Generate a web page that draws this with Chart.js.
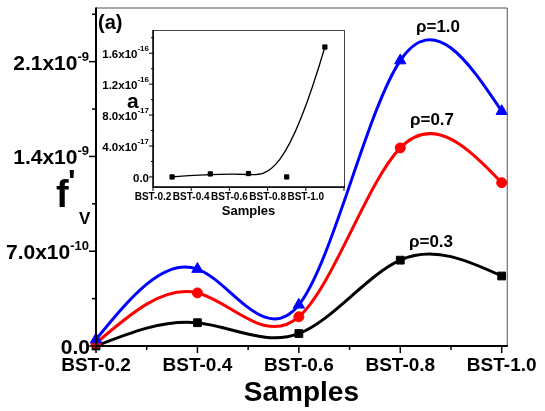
<!DOCTYPE html>
<html><head><meta charset="utf-8">
<script src="https://cdn.jsdelivr.net/npm/chart.js@4.4.0/dist/chart.umd.min.js"></script>
<style>
html,body{margin:0;padding:0;background:#fff;}
#wrap{position:relative;width:545px;height:411px;overflow:hidden;}
#main{position:absolute;left:0;top:0;}
#inset{position:absolute;left:96px;top:24px;}
</style></head><body>
<div id="wrap"><canvas id="main" width="545" height="411"></canvas><canvas id="inset" width="254" height="200"></canvas></div>
<script>
// ---- data ----
const categories = ["BST-0.2","BST-0.4","BST-0.6","BST-0.8","BST-1.0"];
const rho10 = [0.048e-9, 0.568e-9, 0.304e-9, 2.108e-9, 1.734e-9];
const rho07 = [0.020e-9, 0.392e-9, 0.216e-9, 1.463e-9, 1.206e-9];
const rho03 = [0.000e-9, 0.172e-9, 0.092e-9, 0.634e-9, 0.517e-9];
const insetA = [0, 3.9e-18, 4.4e-18, 0, 1.68e-16];
const seriesLabels = ["ρ=1.0","ρ=0.7","ρ=0.3"];
const yTickValues = [0, 7e-10, 1.4e-9, 2.1e-9];
const yTickBase = ["0.0","7.0x10","1.4x10","2.1x10"];
const yTickExp = ["","-10","-9","-9"];
const insetTickValues = [0, 4e-17, 8e-17, 1.2e-16, 1.6e-16];
const insetTickBase = ["0.0","4.0x10","8.0x10","1.2x10","1.6x10"];
const insetTickExp = ["","-17","-17","-16","-16"];

const FONT = "'Liberation Sans', Arial, Helvetica, sans-serif";
Chart.defaults.font.family = FONT;
Chart.defaults.color = '#000';

const toXY = arr => arr.map((v,i)=>({x:i, y:v}));

function supLabel(ctx, xRight, baseline, base, exp, bs, es, rise){
  ctx.textAlign='right'; ctx.textBaseline='alphabetic'; ctx.fillStyle='#000';
  let ew = 0;
  if (exp){ ctx.font = `bold ${es}px ${FONT}`; ew = ctx.measureText(exp).width; ctx.fillText(exp, xRight, baseline - rise); }
  ctx.font = `bold ${bs}px ${FONT}`;
  ctx.fillText(base, xRight - ew, baseline);
}

// natural cubic spline through the plotted points (sets the line element's control points)
const naturalSpline = {
  id:'naturalSpline',
  beforeDatasetDraw(chart, args){
    const meta = args.meta; const pts = meta.data; const n = pts.length;
    if (!meta.dataset || n < 3) return;
    const xs = pts.map(p=>p.x), ys = pts.map(p=>p.y);
    const h=[]; for(let i=0;i<n-1;i++) h.push(xs[i+1]-xs[i]);
    const M = new Array(n).fill(0);
    const a=[],b=[],c=[],d=[];
    for(let i=1;i<n-1;i++){ a.push(h[i-1]); b.push(2*(h[i-1]+h[i])); c.push(h[i]); d.push(6*((ys[i+1]-ys[i])/h[i]-(ys[i]-ys[i-1])/h[i-1])); }
    const m=b.length;
    for(let i=1;i<m;i++){ const w=a[i]/b[i-1]; b[i]-=w*c[i-1]; d[i]-=w*d[i-1]; }
    const sol=new Array(m); sol[m-1]=d[m-1]/b[m-1];
    for(let i=m-2;i>=0;i--) sol[i]=(d[i]-c[i]*sol[i+1])/b[i];
    for(let i=0;i<m;i++) M[i+1]=sol[i];
    pts[0].cp1x=xs[0]; pts[0].cp1y=ys[0];
    pts[n-1].cp2x=xs[n-1]; pts[n-1].cp2y=ys[n-1];
    for(let i=0;i<n-1;i++){
      const hh=h[i], dy=(ys[i+1]-ys[i])/hh;
      const s0=dy-hh*(2*M[i]+M[i+1])/6, s1=dy+hh*(M[i]+2*M[i+1])/6;
      pts[i].cp2x=xs[i]+hh/3; pts[i].cp2y=ys[i]+s0*hh/3;
      pts[i+1].cp1x=xs[i+1]-hh/3; pts[i+1].cp1y=ys[i+1]-s1*hh/3;
    }
    meta.dataset._pointsUpdated = true;
  }
};

const mainDecor = {
  id:'mainDecor',
  afterDraw(chart){
    const ctx=chart.ctx, ca=chart.chartArea, xs=chart.scales.x, ys=chart.scales.y;
    ctx.save();
    // top/right frame
    ctx.strokeStyle='#555'; ctx.lineWidth=1;
    ctx.beginPath(); ctx.moveTo(ca.left, ca.top+0.5); ctx.lineTo(ca.right+0.5, ca.top+0.5); ctx.lineTo(ca.right+0.5, ca.bottom); ctx.stroke();
    // axes
    ctx.strokeStyle='#000'; ctx.lineWidth=2;
    ctx.beginPath(); ctx.moveTo(ca.left, ca.top); ctx.lineTo(ca.left, ca.bottom); ctx.lineTo(ca.right+1, ca.bottom); ctx.stroke();
    // x ticks
    ctx.lineWidth=1.5;
    xs.ticks.forEach(t=>{
      const px=xs.getPixelForValue(t.value); const major=Math.abs(t.value-Math.round(t.value))<1e-6;
      ctx.beginPath(); ctx.moveTo(px, ca.bottom); ctx.lineTo(px, ca.bottom+(major?7:4)); ctx.stroke();
    });
    ys.ticks.forEach(t=>{
      const py=ys.getPixelForValue(t.value); const major=Math.round(t.value/3.5e-10)%2===0;
      ctx.beginPath(); ctx.moveTo(ca.left, py); ctx.lineTo(ca.left-(major?7:4), py); ctx.stroke();
    });
    // y tick labels
    yTickValues.forEach((v,i)=>{
      const py=ys.getPixelForValue(v);
      supLabel(ctx, yTickExp[i]?89:90, py+8, yTickBase[i], yTickExp[i], 21, 13, 9);
    });
    // y title f'V
    ctx.textAlign='left'; ctx.textBaseline='alphabetic'; ctx.fillStyle='#000';
    ctx.font=`bold 38px ${FONT}`; ctx.fillText('f', 56, 207);
    ctx.font=`bold 32px ${FONT}`; ctx.fillText("'", 68, 192);
    ctx.font=`bold 17px ${FONT}`; ctx.fillText('V', 79, 224);
    // panel label
    ctx.font=`bold 20px ${FONT}`; ctx.fillText('(a)', 98, 29);
    // series labels
    ctx.textAlign='center'; ctx.font=`bold 17px ${FONT}`;
    ctx.fillText(seriesLabels[0], 438, 32);
    ctx.fillText(seriesLabels[1], 432, 125);
    ctx.fillText(seriesLabels[2], 431, 247);
    ctx.restore();
  }
};

new Chart(document.getElementById('main'), {
  type:'line',
  data:{ datasets:[
    {label:seriesLabels[0], data:toXY(rho10), borderColor:'#0000ff', backgroundColor:'#0000ff', borderWidth:3, tension:0.4, pointStyle:'triangle', pointRadius:6.5, pointBorderWidth:1, clip:false},
    {label:seriesLabels[1], data:toXY(rho07), borderColor:'#ff0000', backgroundColor:'#ff0000', borderWidth:3, tension:0.4, pointStyle:'circle', pointRadius:5, pointBorderWidth:1, clip:false},
    {label:seriesLabels[2], data:toXY(rho03), borderColor:'#000000', backgroundColor:'#000000', borderWidth:3, tension:0.4, pointStyle:'rect', pointRadius:5.5, pointBorderWidth:1, clip:false}
  ]},
  options:{
    responsive:false, animation:false, events:[],
    layout:{padding:{left:0,right:37,top:6,bottom:0}},
    plugins:{legend:{display:false}, tooltip:{enabled:false}},
    scales:{
      x:{type:'linear', min:0, max:4.05, grid:{display:false, drawTicks:false}, border:{display:false},
         ticks:{stepSize:0.5, includeBounds:false, autoSkip:false, maxRotation:0, padding:8, color:'#000',
                font:{size:19, weight:'bold'},
                callback:(v)=> Math.abs(v-Math.round(v))<1e-6 ? categories[Math.round(v)] : ''},
         title:{display:true, text:'Samples', color:'#000', font:{size:28, weight:'bold'}, padding:{top:0,bottom:1}},
         afterFit:(s)=>{ s.height=65; }},
      y:{type:'linear', min:0, max:2.5e-9, grid:{display:false, drawTicks:false}, border:{display:false},
         ticks:{stepSize:3.5e-10, includeBounds:false, display:false},
         afterFit:(s)=>{ s.width=96; }}
    }
  },
  plugins:[naturalSpline, mainDecor]
});

// ---- inset ----
const insetDecor = {
  id:'insetDecor',
  beforeDatasetsDraw(chart){
    const ctx=chart.ctx, ca=chart.chartArea;
    ctx.save(); ctx.fillStyle='#fff'; ctx.fillRect(ca.left, ca.top, ca.right-ca.left, ca.bottom-ca.top);
    // B-spline using the plotted points as control points
    const p=chart.getDatasetMeta(0).data.map(e=>({x:e.x,y:e.y}));
    const mid=(a,b)=>({x:(a.x+b.x)/2,y:(a.y+b.y)/2});
    const R={x:(p[1].x+2*p[2].x+p[3].x)/4, y:(p[1].y+2*p[2].y+p[3].y)/4};
    const q1=mid(p[1],p[2]), q2=mid(p[2],p[3]);
    ctx.strokeStyle='#000'; ctx.lineWidth=1.3;
    ctx.beginPath(); ctx.moveTo(p[0].x,p[0].y);
    ctx.bezierCurveTo(p[1].x,p[1].y,q1.x,q1.y,R.x,R.y);
    ctx.bezierCurveTo(q2.x,q2.y,p[3].x,p[3].y,p[4].x,p[4].y);
    ctx.stroke(); ctx.restore();
  },
  afterDraw(chart){
    const ctx=chart.ctx, ca=chart.chartArea, xs=chart.scales.x, ys=chart.scales.y;
    ctx.save();
    ctx.strokeStyle='#444'; ctx.lineWidth=1;
    ctx.strokeRect(ca.left+0.5, ca.top+0.5, ca.right-ca.left, ca.bottom-ca.top);
    ctx.strokeStyle='#000'; ctx.lineWidth=1.5;
    ctx.beginPath(); ctx.moveTo(ca.left, ca.top); ctx.lineTo(ca.left, ca.bottom); ctx.lineTo(ca.right+1, ca.bottom); ctx.stroke();
    ctx.lineWidth=1;
    xs.ticks.forEach(t=>{ const px=xs.getPixelForValue(t.value); ctx.beginPath(); ctx.moveTo(px, ca.bottom); ctx.lineTo(px, ca.bottom+4); ctx.stroke(); });
    ys.ticks.forEach(t=>{ const py=ys.getPixelForValue(t.value); const major=Math.round(t.value/2e-17)%2===0;
      ctx.beginPath(); ctx.moveTo(ca.left, py); ctx.lineTo(ca.left-(major?4:2), py); ctx.stroke(); });
    insetTickValues.forEach((v,i)=>{ const py=ys.getPixelForValue(v);
      supLabel(ctx, 53, py+5, insetTickBase[i], insetTickExp[i], 11.5, 8, 7); });
    ctx.textAlign='left'; ctx.textBaseline='alphabetic'; ctx.fillStyle='#000';
    ctx.font=`bold 21px ${FONT}`; ctx.fillText('a', 31, 84);
    ctx.restore();
  }
};

new Chart(document.getElementById('inset'), {
  type:'line',
  data:{ datasets:[
    {label:'a', data:toXY(insetA), showLine:false, borderColor:'#000', backgroundColor:'#000', pointStyle:'rect', pointRadius:3, pointBorderWidth:1, clip:false}
  ]},
  options:{
    responsive:false, animation:false, events:[],
    layout:{padding:{left:0,right:6,top:6,bottom:0}},
    plugins:{legend:{display:false}, tooltip:{enabled:false}},
    scales:{
      x:{type:'linear', min:-0.5, max:4.5, grid:{display:false, drawTicks:false}, border:{display:false},
         ticks:{stepSize:1, includeBounds:false, autoSkip:false, maxRotation:0, padding:4, color:'#000',
                font:{size:10, weight:'bold'}, callback:(v)=>categories[Math.round(v)] ?? ''},
         title:{display:true, text:'Samples', color:'#000', font:{size:13, weight:'bold'}, padding:{top:0,bottom:5}},
         afterFit:(s)=>{ s.height=37; }},
      y:{type:'linear', min:-1.3e-17, max:1.9e-16, grid:{display:false, drawTicks:false}, border:{display:false},
         ticks:{stepSize:2e-17, includeBounds:false, display:false},
         afterFit:(s)=>{ s.width=57; }}
    }
  },
  plugins:[insetDecor]
});
</script>
</body></html>
